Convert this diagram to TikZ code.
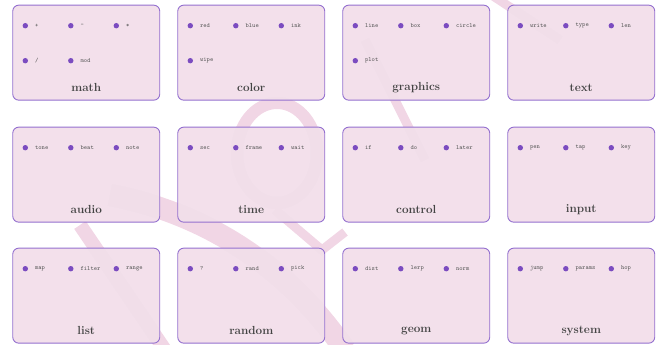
\documentclass[tikz,border=0pt]{standalone}
\usetikzlibrary{calc}
\definecolor{boxfill}{HTML}{F2DFEA}
\definecolor{boxline}{HTML}{9470CF}
\definecolor{dotc}{HTML}{7B4CC0}
\definecolor{wm}{HTML}{F1D6E5}
\definecolor{lblc}{HTML}{555555}
\definecolor{ttlc}{HTML}{444444}
\tikzset{
  catbox/.style={draw=boxline, line width=0.9pt, fill=boxfill, fill opacity=0.96,
    rounded corners=6pt, minimum width=147pt, minimum height=95pt, inner sep=0pt},
  dotn/.style={circle, fill=dotc, minimum size=5.4pt, inner sep=0pt},
  lbl/.style={text=lblc, font=\ttfamily\fontsize{6.3}{7}\selectfont, inner sep=0.5pt, anchor=west},
  ttl/.style={text=ttlc, font=\bfseries\fontsize{11.7}{14}\selectfont, inner sep=0pt},
  wmline/.style={draw=wm, line width=12pt}
}
\newcommand\mkbox[5]{%
  \node[catbox, anchor=north west] (#1) at (#2,#3) {};
  \node[ttl] (#1-t) at ([yshift=13pt]#1.south) {#4};
  \foreach \l [count=\i from 0] in {#5} {
    \pgfmathtruncatemacro\cc{mod(\i,3)}
    \pgfmathtruncatemacro\rr{div(\i,3)}
    \node[dotn] (#1-d\i) at ($(#1.north west)+(13+45.5*\cc,21+35*\rr)$) {};
    \node[lbl] (#1-l\i) at ([xshift=9pt]#1-d\i.center) {\l};
  }%
}
\begin{document}
\begin{tikzpicture}[x=1pt,y=-1pt]
\useasboundingbox (0,0) rectangle (659,345);
% background watermark
\draw[wmline] (277,153) ellipse[x radius=40, y radius=50];
\draw[wmline, line width=9pt] (365,40) -- (425,160);
\draw[wmline, line width=22pt] (110,195) .. controls (200,212) and (285,262) .. (345,350);
\draw[wmline, line width=9pt] (275,210) -- (322,250) -- (345,232);
\draw[wmline, line width=14pt] (80,225) -- (165,350);
\draw[wmline, line width=9pt] (490,-6) -- (560,40);
% boxes
\mkbox{math}{12.3}{4.7}{math}{+,-,*,/,mod}
\mkbox{color}{177.3}{4.7}{color}{red,blue,ink,wipe}
\mkbox{graphics}{342.3}{4.7}{graphics}{line,box,circle,plot}
\mkbox{text}{507.3}{4.7}{text}{write,type,len}
\mkbox{audio}{12.3}{126.7}{audio}{tone,beat,note}
\mkbox{time}{177.3}{126.7}{time}{sec,frame,wait}
\mkbox{control}{342.3}{126.7}{control}{if,do,later}
\mkbox{input}{507.3}{126.7}{input}{pen,tap,key}
\mkbox{list}{12.3}{247.7}{list}{map,filter,range}
\mkbox{random}{177.3}{247.7}{random}{?,rand,pick}
\mkbox{geom}{342.3}{247.7}{geom}{dist,lerp,norm}
\mkbox{system}{507.3}{247.7}{system}{jump,params,hop}
\end{tikzpicture}
\end{document}
